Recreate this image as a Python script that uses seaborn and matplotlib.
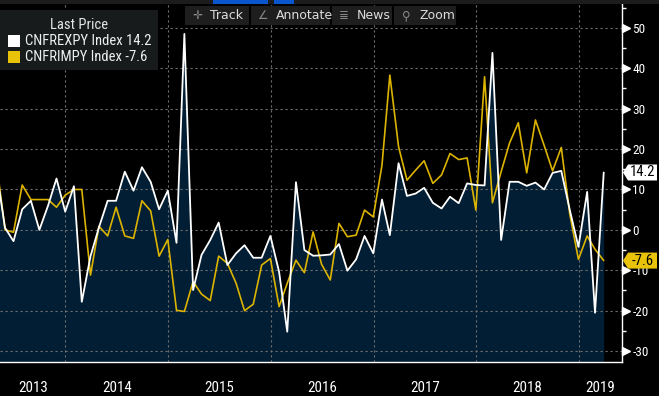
import pandas as pd
import matplotlib
matplotlib.use('Agg')
import matplotlib.pyplot as plt
import matplotlib.dates as mdates
import matplotlib.transforms as mtransforms
from matplotlib import font_manager
from matplotlib.patches import Rectangle, Polygon
from matplotlib.ticker import FixedLocator, NullFormatter
import seaborn as sns

# monthly yoy %, month-end points, Apr 2013 .. Mar 2019
months = pd.date_range('2013-04-30', periods=72, freq='ME')
exports_yoy = [
    14.7, 0.5, -2.8, 5.1, 7.2, 0.0, 6.0, 12.7, 4.5,
    10.8, -17.8, -6.5, 0.6, 7.2, 7.2, 14.4, 9.7, 15.5, 11.9, 5.1, 9.7,
    -3.2, 48.5, -14.9, -6.2, -2.5, 1.8, -8.7, -5.8, -3.8, -6.9, -6.9, -1.5,
    -10.4, -25.2, 11.8, -5.0, -6.4, -6.3, -6.1, -3.5, -10.1, -7.3, -1.5, -5.8,
    7.5, -1.3, 16.5, 8.4, 9.0, 10.4, 6.7, 5.3, 8.2, 6.6, 11.5, 11.1,
    11.0, 43.8, -2.5, 11.9, 11.9, 10.9, 11.7, 10.0, 14.1, 14.6, 5.0, -4.2,
    9.4, -20.5, 14.2,
]
imports_yoy = [
    16.8, 0.0, -0.6, 11.1, 7.5, 7.5, 7.5, 5.6, 8.6,
    10.0, 10.0, -11.2, 0.9, -1.5, 5.6, -1.5, -2.1, 7.2, 4.7, -6.5, -2.4,
    -19.9, -20.2, -12.8, -15.9, -17.5, -6.5, -8.3, -13.2, -20.0, -18.4, -8.7, -7.1,
    -19.0, -13.2, -7.5, -10.6, -0.5, -8.5, -12.4, 1.6, -1.7, -1.3, 4.9, 3.2,
    16.0, 38.3, 20.6, 12.3, 14.8, 17.1, 11.5, 13.6, 18.9, 17.4, 17.8, 4.9,
    37.9, 6.7, 14.4, 21.5, 26.5, 14.1, 27.2, 20.9, 14.6, 20.4, 4.0, -7.3,
    -1.5, -4.8, -7.6,
]
series_names = ['CNFREXPY Index', 'CNFRIMPY Index']
years = [2013, 2014, 2015, 2016, 2017, 2018, 2019]
y_ticks = [-30, -20, -10, 0, 10, 20, 30, 40, 50]
y_minor = [-25, -15, -5, 5, 15, 25, 35, 45, 55]
toolbar = [('\u271b', 'Track'), ('\u2220', 'Annotate'), ('\u2263', 'News'), ('\u26b2', 'Zoom')]

WHITE = '#ffffff'
YELLOW = '#dcb400'
TAG_YELLOW = '#e8c30a'
NAVY = '#021e34'
GRID = '#6e6e6e'

sns.set_theme(style='dark', rc={'axes.facecolor': 'black', 'figure.facecolor': 'black'})
# bloomberg uses a narrow face; take the first narrow family we have
avail = {f.name for f in font_manager.fontManager.ttflist}
candidates = ['Liberation Sans Narrow', 'Arial Narrow', 'Roboto Condensed', 'PT Sans Narrow',
              'Archivo Narrow', 'Open Sans Condensed', 'DejaVu Sans Condensed', 'Fira Sans Condensed',
              'IBM Plex Sans Condensed', 'Encode Sans Condensed', 'Pragati Narrow']
narrow = next((n for n in candidates if n in avail), 'DejaVu Sans')
plt.rcParams['font.family'] = [narrow, 'DejaVu Sans']
plt.rcParams['axes.unicode_minus'] = False

W, H = 659, 396


def fx(px):
    return px / W


def fy(py):
    return 1 - py / H


fig = plt.figure(figsize=(W / 100, H / 100), dpi=100)
ax = fig.add_axes([0, fy(362), 622 / W, (362 - 4) / H])
ymin, ymax = -32.7, 55.9
x0, x1 = pd.Timestamp('2013-05-13'), pd.Timestamp('2019-06-04')
ax.set_xlim(x0, x1)
ax.set_ylim(ymin, ymax)

# area under exports + lines
ax.fill_between(months, exports_yoy, ymin - 10, color=NAVY, lw=0, zorder=1)
for v in y_ticks:
    ax.axhline(v, color=GRID, lw=0.8, ls=(0, (2, 2.5)), zorder=1.5)
for yr in years[1:]:
    ax.axvline(pd.Timestamp(f'{yr}-01-01'), color=GRID, lw=0.8, ls=(0, (2, 2.5)), zorder=1.5)
sns.lineplot(x=months, y=imports_yoy, ax=ax, color=YELLOW, lw=1.2, zorder=2)
sns.lineplot(x=months, y=exports_yoy, ax=ax, color=WHITE, lw=1.3, zorder=3)
ax.set_xlabel('')
ax.set_ylabel('')

# spines
for s in ['left', 'top']:
    ax.spines[s].set_visible(False)
for s in ['right', 'bottom']:
    ax.spines[s].set_visible(True)
    ax.spines[s].set_color('white')
    ax.spines[s].set_linewidth(1)

# right value axis
ax.yaxis.tick_right()
ax.yaxis.set_major_locator(FixedLocator(y_ticks))
ax.yaxis.set_minor_locator(FixedLocator(y_minor))
ax.tick_params(axis='y', which='major', length=0, pad=7.5, labelcolor='white', labelsize=9.5)
ax.tick_params(axis='y', which='minor', length=3, width=1, color='white', direction='out')
ytrans = ax.get_yaxis_transform()
ax.plot([1 + 4 / 622] * len(y_ticks), y_ticks, ls='none', marker='>', ms=6, color='white',
        transform=ytrans, clip_on=False, zorder=5)

# bottom time axis
ax.xaxis.set_major_locator(mdates.YearLocator())
ax.xaxis.set_major_formatter(NullFormatter())
ax.xaxis.set_minor_locator(mdates.MonthLocator(bymonth=[4, 7, 10]))
ax.xaxis.set_minor_formatter(NullFormatter())
ax.tick_params(axis='x', which='major', length=25, width=1, color='#8c8c8c', direction='out')
ax.tick_params(axis='x', which='minor', length=3, width=1, color='white', direction='out')
xtrans = mtransforms.blended_transform_factory(ax.transData, ax.transAxes)
for yr in years:
    a = max(pd.Timestamp(f'{yr}-01-01'), x0)
    b = min(pd.Timestamp(f'{yr + 1}-01-01'), x1)
    ax.text(a + (b - a) / 2, (362 - 388) / 358, str(yr), transform=xtrans, ha='center', va='center',
            color='white', fontsize=10.8, clip_on=False)

# last value tags
ppu = 358 / (ymax - ymin)
for val, fc in [(exports_yoy[-1], 'white'), (imports_yoy[-1], TAG_YELLOW)]:
    hh = 8 / ppu
    pts = [(1 + 1 / 622, val), (1 + 6 / 622, val + hh), (1 + 35 / 622, val + hh),
           (1 + 35 / 622, val - hh), (1 + 6 / 622, val - hh)]
    ax.add_patch(Polygon(pts, closed=True, fc=fc, ec='none', transform=ytrans, clip_on=False, zorder=6))
    ax.text(1 + 20.5 / 622, val, f'{val:.1f}', transform=ytrans, ha='center', va='center',
            color='black', fontsize=10.5, zorder=7, clip_on=False)

# legend panel
fig.add_artist(Rectangle((fx(0), fy(70)), fx(158), 60 / H, transform=fig.transFigure,
                         fc='#171b1b', ec='none', zorder=10))
fig.text(fx(79), fy(25), 'Last Price', ha='center', va='center', color='#e6e6e6', fontsize=10.5, zorder=11)
for i, (name, val, col) in enumerate([(series_names[0], exports_yoy[-1], WHITE),
                                       (series_names[1], imports_yoy[-1], TAG_YELLOW)]):
    cy = 41 + 16 * i
    fig.add_artist(Rectangle((fx(8), fy(cy + 6)), 12 / W, 12 / H, transform=fig.transFigure,
                             fc=col, ec='none', zorder=11))
    fig.text(fx(25), fy(cy), f'{name} {val:.1f}', ha='left', va='center', color='#eeeeee',
             fontsize=10.5, zorder=11)

# top strip and toolbar
fig.add_artist(Rectangle((0, fy(4)), 1, 4 / H, transform=fig.transFigure, fc='#1c1c1c', ec='none', zorder=10))
fig.add_artist(Rectangle((fx(213), fy(3.5)), 55 / W, 3.5 / H, transform=fig.transFigure,
                         fc='#0a56cf', ec='none', zorder=11))
fig.add_artist(Rectangle((fx(274), fy(3.5)), 20 / W, 3.5 / H, transform=fig.transFigure,
                         fc='#0a56cf', ec='none', zorder=11))
button_edges = [(185, 249), (251, 330), (332, 392), (394, 456)]
for (icon, label), (bx0, bx1) in zip(toolbar, button_edges):
    fig.add_artist(Rectangle((fx(bx0), fy(25)), (bx1 - bx0) / W, 19 / H, transform=fig.transFigure,
                             fc='#1e1e1e', ec='none', zorder=10))
    fig.text(fx(bx0 + 12), fy(15.5), icon, ha='center', va='center', color='#8a8a8a',
             fontsize=8.5, family='DejaVu Sans', zorder=11)
    fig.text(fx(bx0 + 25), fy(15.5), label, ha='left', va='center', color='#dcdcdc',
             fontsize=9, family='DejaVu Sans', zorder=11)

fig.savefig('out.png', dpi=100, facecolor='black')
